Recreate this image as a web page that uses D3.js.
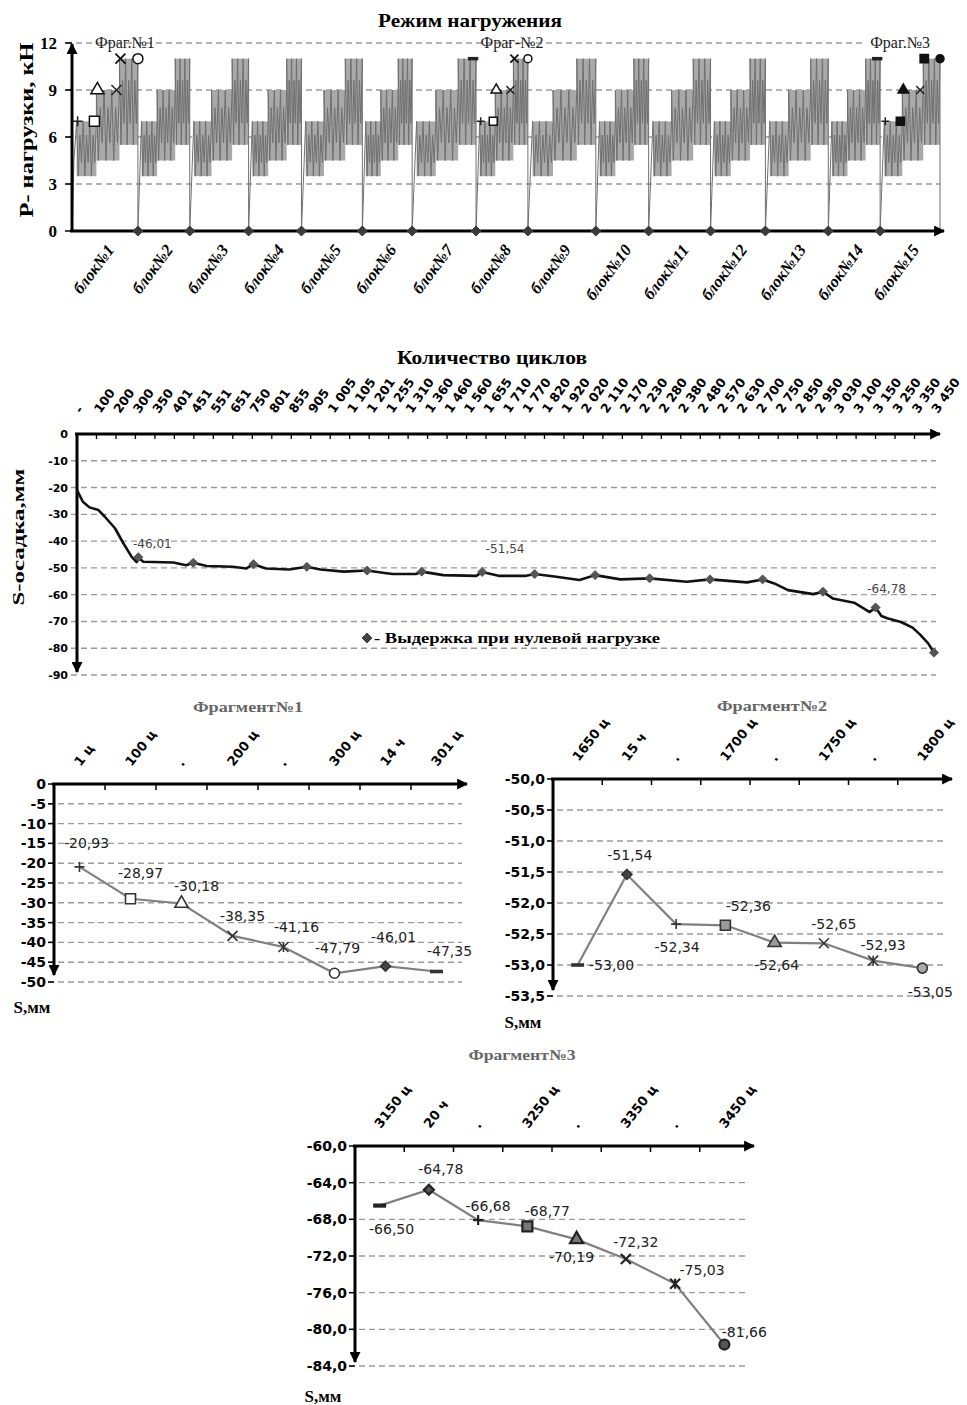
<!DOCTYPE html>
<html>
<head>
<meta charset="utf-8">
<title>Режим нагружения и осадка</title>
<style>
  body { margin: 0; background: #fff; }
  .grid { stroke: #9a9a9a; stroke-width: 1.4; stroke-dasharray: 6,4; }
  .axis { stroke: #000; stroke-width: 3; fill: none; }
</style>
</head>
<body>
<svg id="chart" width="967" height="1405"></svg>
<script src="https://d3js.org/d3.v7.min.js"></script>
<script>
// ---------- data ----------
// load regime: 15 blocks, block boundaries in cycles, three load stages (kN)
const blockNames = ["блок№1", "блок№2", "блок№3", "блок№4", "блок№5", "блок№6", "блок№7", "блок№8",
  "блок№9", "блок№10", "блок№11", "блок№12", "блок№13", "блок№14", "блок№15"];
const blockBounds = [0, 262, 468, 702, 912, 1154, 1352, 1606, 1812, 2082, 2292, 2538, 2756, 3006, 3212, 3450];
const loadLow = [3.5, 4.5, 5.5];
const loadHigh = [7, 9, 11];
const loadTicks = [0, 3, 6, 9, 12];

// settlement vs cycles (row = position along the category axis)
const cycleLabels = ["-", "100", "200", "300", "350", "401", "451", "551", "651", "750", "801", "855", "905",
  "1 005", "1 105", "1 201", "1 255", "1 310", "1 360", "1 460", "1 560", "1 655", "1 710", "1 770", "1 820",
  "1 920", "2 020", "2 110", "2 170", "2 230", "2 280", "2 380", "2 480", "2 570", "2 630", "2 700", "2 750",
  "2 850", "2 950", "3 030", "3 100", "3 150", "3 250", "3 350", "3 450"];
const settleRow = [0, 0.3, 0.64, 1.1, 1.43, 1.95, 2.38, 2.8, 3.06, 3.4, 4.95, 5.6, 6.66, 8.0, 8.7, 9.7, 10.9,
  12.5, 13.7, 15.7, 16.2, 17.4, 18.8, 20.5, 21.7, 23.0, 24.6, 25.8, 27.9, 31.3, 34.4, 35.8, 36.5, 37.8, 38.8,
  39.9, 40.7, 41.3, 41.6, 42.3, 42.9, 43.3, 43.7];
const settleVal = [-20.93, -25.3, -27.4, -28.4, -30.9, -35.2, -40.8, -45.8, -47.8, -47.7, -48.0, -49.0, -49.3,
  -49.6, -50.2, -50.2, -50.6, -50.6, -51.4, -51.8, -52.3, -52.3, -52.7, -53.0, -53.0, -53.0, -53.3, -54.5,
  -54.3, -55.2, -55.4, -55.8, -58.3, -59.8, -61.4, -63.0, -66.5, -68.0, -68.8, -70.2, -72.3, -75.0, -78.2];
// holds at zero load
const holdRow = [3.15, 5.97, 9.06, 11.8, 14.9, 17.7, 20.8, 23.5, 26.6, 29.4, 32.5, 35.2, 38.3, 41.0, 44];
const holdVal = [-46.01, -48.1, -48.6, -49.6, -51.0, -51.4, -51.54, -52.3, -52.7, -53.9, -54.3, -54.3, -58.9, -64.78, -81.66];
const settleTicks = [0, -10, -20, -30, -40, -50, -60, -70, -80, -90];

// fragments
const frag1Cats = ["1 ц", "100 ц", ".", "200 ц", "..", "300 ц", "14 ч", "301 ц"];
const frag1Vals = [-20.93, -28.97, -30.18, -38.35, -41.16, -47.79, -46.01, -47.35];
const frag1Ticks = [0, -5, -10, -15, -20, -25, -30, -35, -40, -45, -50];
const frag2Cats = ["1650 ц", "15 ч", ".", "1700 ц", "..", "1750 ц", "...", "1800 ц"];
const frag2Vals = [-53.00, -51.54, -52.34, -52.36, -52.64, -52.65, -52.93, -53.05];
const frag2Ticks = [-50, -50.5, -51, -51.5, -52, -52.5, -53, -53.5];
const frag3Cats = ["3150 ц", "20 ч", ".", "3250 ц", "..", "3350 ц", "...", "3450 ц"];
const frag3Vals = [-66.50, -64.78, -68.08, -68.77, -70.19, -72.32, -75.03, -81.66];
const frag3Labels = ["-66,50", "-64,78", "-66,68", "-68,77", "-70,19", "-72,32", "-75,03", "-81,66"];
const frag3Ticks = [-60, -64, -68, -72, -76, -80, -84];

// ---------- helpers ----------
const SERIF = '"Liberation Serif", "Times New Roman", serif';
const SANS = '"DejaVu Sans", Verdana, sans-serif';
const fix = s => s.replace("\u2212", "-").replace(".", ",");
const comma2 = d => fix(d3.format(".2f")(d));
const comma1 = d => fix(d3.format(".1f")(d));

const svg = d3.select("#chart");
svg.append("defs").append("marker")
    .attr("id", "arr").attr("viewBox", "0 0 10 10").attr("refX", 9).attr("refY", 5)
    .attr("markerWidth", 11).attr("markerHeight", 11).attr("markerUnits", "userSpaceOnUse")
    .attr("orient", "auto")
  .append("path").attr("d", "M0,0L10,5L0,10z").attr("fill", "#000");

function drawMarker(g, type, x, y, r, fill, stroke, sw) {
    const lines = {
        plus: `M${-r},0H${r}M0,${-r}V${r}`,
        dash: `M${-1.3 * r},0H${1.3 * r}`,
        x: `M${-r},${-r}L${r},${r}M${-r},${r}L${r},${-r}`,
        star: `M${-r},${-r}L${r},${r}M${-r},${r}L${r},${-r}M0,${-r}V${r}`
    };
    if (lines[type]) {
        return g.append("path").attr("d", lines[type]).attr("transform", `translate(${x},${y})`)
            .attr("fill", "none").attr("stroke", stroke).attr("stroke-width", type === "dash" ? sw + 2 : sw);
    }
    let d;
    if (type === "diamond") d = `M0,${-r}L${r},0L0,${r}L${-r},0Z`;
    else {
        const shapes = { square: [d3.symbolSquare, 4], triangle: [d3.symbolTriangle, 3], circle: [d3.symbolCircle, Math.PI] };
        const [sym, k] = shapes[type];
        d = d3.symbol(sym, k * r * r)();
    }
    return g.append("path").attr("d", d).attr("transform", `translate(${x},${y})`)
        .attr("fill", fill).attr("stroke", stroke).attr("stroke-width", sw);
}

function label(g, txt, x, y, opts) {
    const t = g.append("text").attr("x", x).attr("y", y).text(txt)
        .attr("font-family", opts.family || SERIF)
        .attr("font-size", opts.size || 14)
        .attr("font-weight", opts.weight || "bold")
        .attr("fill", opts.fill || "#000")
        .attr("text-anchor", opts.anchor || "middle");
    if (opts.len) t.attr("textLength", opts.len).attr("lengthAdjust", "spacingAndGlyphs");
    if (opts.rotate) t.attr("transform", `rotate(${opts.rotate},${x},${y})`);
    if (opts.italic) t.attr("font-style", "italic");
    return t;
}

// ---------- chart 1: load regime ----------
const xL = d3.scaleLinear().domain([0, 3450]).range([72, 940]);
const yL = d3.scaleLinear().domain([0, 12]).range([231, 43]);
const g1 = svg.append("g");

g1.selectAll(".gl").data(loadTicks.slice(1)).join("line").attr("class", "grid")
    .attr("x1", 66).attr("x2", d => d === 12 ? 866 : 940)
    .attr("y1", d => yL(d)).attr("y2", d => yL(d));

// stage bands of each block (min..max of cyclic load)
const stageFrac = [0.07, 0.37, 0.72, 1.0];
const stages = d3.range(blockNames.length).flatMap(b => loadLow.map((lo, k) => {
    const s = blockBounds[b], w = blockBounds[b + 1] - s;
    return { x0: s + stageFrac[k] * w, x1: s + stageFrac[k + 1] * w, lo, hi: loadHigh[k] };
}));
g1.selectAll(".band").data(stages).join("rect")
    .attr("x", d => xL(d.x0)).attr("width", d => xL(d.x1) - xL(d.x0))
    .attr("y", d => yL(d.hi)).attr("height", d => yL(d.lo) - yL(d.hi))
    .attr("fill", "#a9a9a9");

// cycling between min and max of each stage, drop to zero between blocks
function blockPoints(b) {
    const s = blockBounds[b], e = blockBounds[b + 1], w = e - s;
    const pts = [[s, 0]];
    if (b === 0) pts.push([s + 0.03 * w, 4.5]);
    loadLow.forEach((lo, k) => {
        const hi = loadHigh[k];
        const x0 = s + stageFrac[k] * w, x1 = s + stageFrac[k + 1] * w;
        const n = 12;
        for (let j = 0; j <= n; j++) {
            const pad = (Math.floor(j / 2) % 2 === 1) ? 0.25 * (hi - lo) : 0;
            pts.push([x0 + (x1 - x0) * j / n, j % 2 ? lo + pad : hi - pad]);
        }
    });
    pts.push([e, 0]);
    return pts;
}
const loadPts = d3.range(blockNames.length).flatMap(blockPoints);
g1.append("path")
    .attr("d", d3.line().x(d => xL(d[0])).y(d => yL(d[1]))(loadPts))
    .attr("fill", "none").attr("stroke", "#707070").attr("stroke-width", 1);

// axes
g1.append("line").attr("class", "axis").attr("x1", 72).attr("y1", 232).attr("x2", 72).attr("y2", 44)
    .attr("marker-end", "url(#arr)");
g1.append("line").attr("class", "axis").attr("x1", 70).attr("y1", 231).attr("x2", 944).attr("y2", 231)
    .attr("stroke-width", 3.5).attr("marker-end", "url(#arr)");
g1.selectAll(".tk").data(loadTicks).join("line")
    .attr("x1", 65).attr("x2", 72).attr("y1", d => yL(d)).attr("y2", d => yL(d))
    .attr("stroke", "#000").attr("stroke-width", 1.5);
loadTicks.forEach(d => label(g1, d, 57, yL(d) + 6, { size: 17, anchor: "end" }));

// holds at zero load
blockBounds.slice(1, -1).forEach(b => drawMarker(g1, "diamond", xL(b), 231, 5, "#3a3a3a", "#3a3a3a", 1));

// block names
blockNames.forEach((n, i) => {
    const cx = xL((blockBounds[i] + blockBounds[i + 1]) / 2) + 10;
    label(g1, n, cx, 250, { size: 16.5, anchor: "end", rotate: -53, italic: true });
});

// fragment markers on the load diagram
const fragBlocks = [0, 7, 14];
const fragNames = ["Фраг.№1", "Фраг-№2", "Фраг.№3"];
const fragNameDx = [20, 10, -10];
fragBlocks.forEach((b, f) => {
    const s = blockBounds[b], w = blockBounds[b + 1] - s;
    const at = k => xL(s + stageFrac[k] * w);
    const open = f < 2;
    const fill = open ? "#fff" : "#111";
    const r = f === 0 ? 5 : 4;
    if (f > 0) drawMarker(g1, "dash", xL(s) - 3, yL(11), 4, "#222", "#222", 1.5);
    drawMarker(g1, "plus", at(0) + 1, yL(7), r, "none", "#222", 1.5);
    drawMarker(g1, "square", at(1) - 2, yL(7), r, fill, "#111", 1.5);
    drawMarker(g1, "triangle", at(1) + 1, yL(9), r, fill, "#111", 1.5);
    drawMarker(g1, "x", at(2) - 3, yL(9), r, "none", "#222", 1.5);
    drawMarker(g1, open ? "x" : "square", at(2) + 1, yL(11), r, fill, "#111", 1.8);
    drawMarker(g1, "circle", at(3), yL(11), r, fill, "#111", 1.5);
    label(g1, fragNames[f], xL(s + w / 2) + fragNameDx[f], 48, { size: 16, weight: "normal", fill: "#222" });
});

label(g1, "Режим нагружения", 470, 27, { size: 19, len: 184 });
label(g1, "P- нагрузки, кН", 33, 130, { size: 18, len: 175, rotate: -90 });

// ---------- chart 2: settlement vs cycles ----------
const xS = d3.scaleLinear().domain([0, 44]).range([77, 934]);
const yS = d3.scaleLinear().domain([-90, 0]).range([675, 434]);
const g2 = svg.append("g");

g2.selectAll(".gl").data(settleTicks.slice(1)).join("line").attr("class", "grid")
    .attr("x1", 71).attr("x2", 936).attr("y1", d => yS(d)).attr("y2", d => yS(d));

g2.append("line").attr("class", "axis").attr("x1", 75).attr("y1", 434).attr("x2", 940).attr("y2", 434)
    .attr("marker-end", "url(#arr)");
g2.append("line").attr("class", "axis").attr("x1", 77).attr("y1", 433).attr("x2", 77).attr("y2", 672)
    .attr("marker-end", "url(#arr)");
g2.selectAll(".tk").data(d3.range(0, 44)).join("line")
    .attr("x1", d => xS(d)).attr("x2", d => xS(d)).attr("y1", 434).attr("y2", 439)
    .attr("stroke", "#000").attr("stroke-width", 1.3);
settleTicks.forEach(d => label(g2, d, 68, yS(d) + 4, { family: SANS, size: 11, anchor: "end" }));
cycleLabels.forEach((c, i) => label(g2, c, xS(i) + 4, 414, { family: SANS, size: 12.5, anchor: "start", rotate: -55 }));

const settlePts = settleRow.map((r, i) => [r, settleVal[i]])
    .concat(holdRow.map((r, i) => [r, holdVal[i]]))
    .sort((a, b) => a[0] - b[0]);
g2.append("path")
    .attr("d", d3.line().x(d => xS(d[0])).y(d => yS(d[1]))(settlePts))
    .attr("fill", "none").attr("stroke", "#111").attr("stroke-width", 2.6).attr("stroke-linejoin", "round");
holdRow.forEach((r, i) => drawMarker(g2, "diamond", xS(r), yS(holdVal[i]), 4.5, "#555", "#555", 1));

const holdLabelIdx = [0, 6, 13];
const holdLabelOff = [[14, -9], [23, -19], [11, -14]];
holdLabelIdx.forEach((h, k) => label(g2, comma2(holdVal[h]), xS(holdRow[h]) + holdLabelOff[k][0],
    yS(holdVal[h]) + holdLabelOff[k][1], { family: SANS, size: 12, weight: "normal", fill: "#444" }));

drawMarker(g2, "diamond", 367, 638, 5, "#444", "#444", 1);
label(g2, "- Выдержка при нулевой нагрузке", 374, 643, { size: 15, anchor: "start", len: 286 });
label(g2, "Количество циклов", 492, 364, { size: 18, len: 190 });
label(g2, "S-осадка,мм", 24, 537, { size: 17, len: 137, rotate: -90 });

// ---------- fragments ----------
function drawFrag(o) {
    const g = svg.append("g");
    const x = d3.scaleBand().domain(o.cats).range(o.xr);
    const y = d3.scaleLinear().domain(o.yd).range(o.yr);
    const cx = c => x(c) + x.bandwidth() / 2;
    const x0 = o.xr[0], x1 = o.xr[1], yTop = o.yr[1];

    g.selectAll(".gl").data(o.ticks.slice(1)).join("line").attr("class", "grid")
        .attr("x1", x0 - 6).attr("x2", x1).attr("y1", d => y(d)).attr("y2", d => y(d));
    g.selectAll(".ty").data(o.ticks).join("line")
        .attr("x1", x0 - 6).attr("x2", x0).attr("y1", d => y(d)).attr("y2", d => y(d))
        .attr("stroke", "#000").attr("stroke-width", 1.5);
    g.append("line").attr("class", "axis").attr("x1", x0 - 2).attr("y1", yTop).attr("x2", x1 + 5).attr("y2", yTop)
        .attr("marker-end", "url(#arr)");
    g.append("line").attr("class", "axis").attr("x1", x0).attr("y1", yTop - 1).attr("x2", x0).attr("y2", o.yEnd)
        .attr("marker-end", "url(#arr)");
    g.selectAll(".tx").data(o.cats.slice(1)).join("line")
        .attr("x1", d => x(d)).attr("x2", d => x(d)).attr("y1", yTop).attr("y2", yTop + 6)
        .attr("stroke", "#000").attr("stroke-width", 1.5);

    o.ticks.forEach(d => label(g, o.fmt(d), x0 - 8, y(d) + 5, { family: SANS, size: 14, anchor: "end" }));
    o.cats.forEach(c => label(g, c.replace(/^\.+$/, "."), cx(c) + 1, yTop - 17,
        { family: SANS, size: 13, anchor: "start", rotate: -52 }));

    g.append("path")
        .attr("d", d3.line().x((d, i) => cx(o.cats[i])).y(d => y(d))(o.vals))
        .attr("fill", "none").attr("stroke", "#808080").attr("stroke-width", 2.2);

    o.vals.forEach((v, i) => {
        drawMarker(g, o.sym[i], cx(o.cats[i]), y(v), 5, o.fill[i], o.stroke, o.sw);
        const txt = o.labels ? o.labels[i] : comma2(v);
        label(g, txt, cx(o.cats[i]) + o.off[i][0], y(v) + o.off[i][1] + 5,
            { family: SANS, size: 14, weight: "normal", fill: "#222" });
    });

    label(g, o.title, o.titlePos[0], o.titlePos[1], { size: 15, fill: "#666", len: o.titleLen });
    label(g, "S,мм", o.sPos[0], o.sPos[1], { size: 17 });
}

drawFrag({
    cats: frag1Cats, vals: frag1Vals, ticks: frag1Ticks, fmt: d => fix(String(d)),
    xr: [54, 462], yd: [-50, 0], yr: [982, 784], yEnd: 975,
    sym: ["plus", "square", "triangle", "x", "star", "circle", "diamond", "dash"],
    fill: ["none", "#fff", "#fff", "none", "none", "#fff", "#444", "#444"], stroke: "#333", sw: 1.6,
    off: [[7, -24], [10, -26], [15, -18], [10, -20], [13, -20], [3, -25], [8, -29], [13, -21]],
    title: "Фрагмент№1", titlePos: [248, 712], titleLen: 110, sPos: [32, 1013]
});
drawFrag({
    cats: frag2Cats, vals: frag2Vals, ticks: frag2Ticks, fmt: comma1,
    xr: [553, 947], yd: [-53.5, -50], yr: [996, 779], yEnd: 990,
    sym: ["dash", "diamond", "plus", "square", "triangle", "x", "star", "circle"],
    fill: ["#444", "#444", "none", "#999", "#999", "none", "none", "#aaa"], stroke: "#333", sw: 1.6,
    off: [[34, 0], [3, -19], [1, 23], [23, -19], [2, 22], [10, -19], [10, -16], [8, 24]],
    title: "Фрагмент№2", titlePos: [772, 711], titleLen: 110, sPos: [523, 1028]
});
drawFrag({
    cats: frag3Cats, vals: frag3Vals, labels: frag3Labels, ticks: frag3Ticks, fmt: comma1,
    xr: [355, 749], yd: [-84, -60], yr: [1366, 1146], yEnd: 1362,
    sym: ["dash", "diamond", "plus", "square", "triangle", "x", "star", "circle"],
    fill: ["#333", "#555", "none", "#777", "#777", "none", "none", "#555"], stroke: "#222", sw: 2.2,
    off: [[12, 23], [12, -21], [10, -14], [20, -15], [-5, 18], [10, -17], [27, -14], [20, -13]],
    title: "Фрагмент№3", titlePos: [522, 1060], titleLen: 107, sPos: [323, 1402]
});
</script>
</body>
</html>
